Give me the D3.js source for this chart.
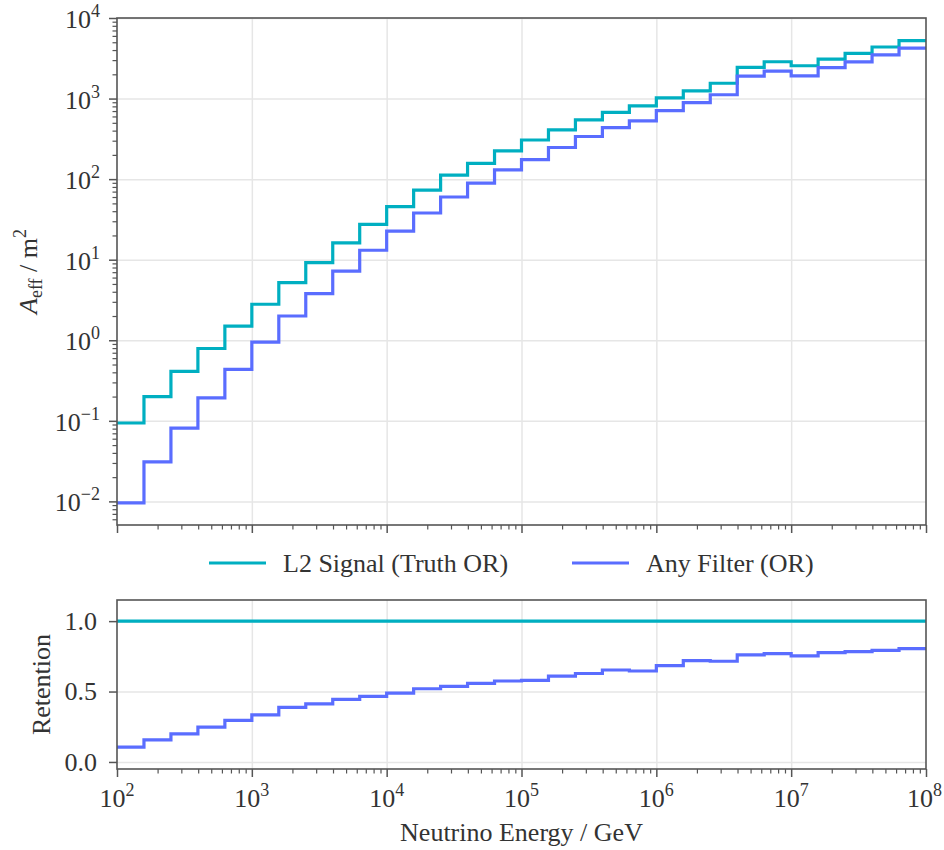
<!DOCTYPE html>
<meta charset="utf-8">
<body style="margin:0;background:#fff">
<script src="https://d3js.org/d3.v7.min.js"></script>
<script>
// bin edges as log10(E / GeV), 5 bins per decade
var edgeExp = [2.0, 2.2, 2.4, 2.6, 2.8, 3.0, 3.2, 3.4, 3.6, 3.8, 4.0, 4.2, 4.4, 4.6, 4.8,
               5.0, 5.2, 5.4, 5.6, 5.8, 6.0, 6.2, 6.4, 6.6, 6.8, 7.0, 7.2, 7.4, 7.6, 7.8, 8.0];

// effective area per bin (m^2)
var aeffL2 = [0.094, 0.20, 0.41, 0.79, 1.5, 2.8, 5.2, 9.2, 16.2, 27.4, 45.5, 73, 112, 157, 224,
              306, 408, 543, 672, 813, 1021, 1248, 1550, 2437, 2863, 2553, 3093, 3640, 4363, 5224];
var aeffAny = [0.0096, 0.031, 0.081, 0.193, 0.435, 0.95, 2.0, 3.8, 7.2, 13.1, 22.6, 38, 60, 89, 130,
               175, 247, 338, 437, 530, 710, 892, 1115, 1900, 2188, 1913, 2420, 2850, 3480, 4230];

// retention relative to L2 signal
var retL2 = [1, 1, 1, 1, 1, 1, 1, 1, 1, 1, 1, 1, 1, 1, 1, 1, 1, 1, 1, 1, 1, 1, 1, 1, 1, 1, 1, 1, 1, 1];
var retAny = [0.105, 0.157, 0.200, 0.247, 0.295, 0.335, 0.387, 0.413, 0.444, 0.466, 0.489, 0.520, 0.537, 0.558, 0.575,
              0.580, 0.610, 0.628, 0.653, 0.646, 0.684, 0.720, 0.715, 0.760, 0.769, 0.753, 0.776, 0.783, 0.793, 0.805];

var seriesNames = ["L2 Signal (Truth OR)", "Any Filter (OR)"];
var colors = ["#00afc1", "#5a6dff"];

var retTicks = [0.0, 0.5, 1.0];
var aeffDecades = [-2, -1, 0, 1, 2, 3, 4];
var energyDecades = [2, 3, 4, 5, 6, 7, 8];

var width = 944, height = 850;
var left = 117, right = 926;
var top1 = 18, bot1 = 525, top2 = 600, bot2 = 769;
var font = "Liberation Serif, Times New Roman, serif";
var fs = 26, fsSup = 18;
var textCol = "#333";
var spineCol = "#555";

var svg = d3.select("body").append("svg")
    .attr("width", width)
    .attr("height", height)
    .attr("font-family", font);

var x = d3.scaleLog().domain([1e2, 1e8]).range([left, right]);
var y1 = d3.scaleLog().domain([Math.pow(10, -2.293), 1e4]).range([bot1, top1]);
var y2 = d3.scaleLinear().domain([-0.05, 1.15]).range([bot2, top2]);

var edges = edgeExp.map(function(e) { return Math.pow(10, e); });
var majorX = energyDecades.map(function(e) { return Math.pow(10, e); });
var minorX = [];
energyDecades.slice(0, -1).forEach(function(e) {
  for (var m = 2; m < 10; m++) minorX.push(m * Math.pow(10, e));
});
var majorY = aeffDecades.map(function(e) { return Math.pow(10, e); });
var minorY = [];
[-3].concat(aeffDecades).forEach(function(e) {
  for (var m = 2; m < 10; m++) {
    var v = m * Math.pow(10, e);
    if (v > y1.domain()[0] && v < 1e4) minorY.push(v);
  }
});

function stepPoints(vals) {
  var pts = vals.map(function(v, i) { return [edges[i], v]; });
  pts.push([edges[edges.length - 1], vals[vals.length - 1]]);
  return pts;
}

function addText(parent) {
  return parent.append("text")
    .attr("fill", textCol)
    .style("font-family", font)
    .style("font-size", fs + "px");
}

function panel(yScale, yTop, yBot, yGrid, series, clipId) {
  var g = svg.append("g");
  // grid
  g.append("g").attr("transform", "translate(0," + yBot + ")")
    .call(d3.axisBottom(x).tickValues(majorX.slice(1, -1)).tickSize(-(yBot - yTop)).tickFormat(""))
    .call(function(s) { s.select(".domain").remove(); s.selectAll("line").attr("stroke", "#e6e6e6").attr("stroke-width", 1.5); });
  g.append("g").attr("transform", "translate(" + left + ",0)")
    .call(d3.axisLeft(yScale).tickValues(yGrid).tickSize(-(right - left)).tickFormat(""))
    .call(function(s) { s.select(".domain").remove(); s.selectAll("line").attr("stroke", "#e6e6e6").attr("stroke-width", 1.5); });

  svg.append("clipPath").attr("id", clipId).append("rect")
    .attr("x", left).attr("y", yTop).attr("width", right - left).attr("height", yBot - yTop);

  var line = d3.line()
    .x(function(d) { return x(d[0]); })
    .y(function(d) { return yScale(d[1]); })
    .curve(d3.curveStepAfter);

  series.forEach(function(vals, i) {
    g.append("path")
      .attr("clip-path", "url(#" + clipId + ")")
      .attr("d", line(stepPoints(vals)))
      .attr("fill", "none")
      .attr("stroke", colors[i])
      .attr("stroke-width", 3.2);
  });

  // x ticks
  g.append("g").attr("transform", "translate(0," + yBot + ")")
    .call(d3.axisBottom(x).tickValues(majorX).tickSize(8).tickFormat(""))
    .call(function(s) { s.select(".domain").remove(); s.selectAll("line").attr("stroke", spineCol).attr("stroke-width", 1.5); });
  g.append("g").attr("transform", "translate(0," + yBot + ")")
    .call(d3.axisBottom(x).tickValues(minorX).tickSize(4.5).tickFormat(""))
    .call(function(s) { s.select(".domain").remove(); s.selectAll("line").attr("stroke", spineCol).attr("stroke-width", 1.2); });

  // frame
  g.append("rect")
    .attr("x", left).attr("y", yTop).attr("width", right - left).attr("height", yBot - yTop)
    .attr("fill", "none").attr("stroke", spineCol).attr("stroke-width", 1.6);
  return g;
}

// top panel
var g1 = panel(y1, top1, bot1, majorY, [aeffL2, aeffAny], "clipTop");
g1.append("g").attr("transform", "translate(" + left + ",0)")
  .call(d3.axisLeft(y1).tickValues(majorY).tickSize(8).tickFormat(""))
  .call(function(s) { s.select(".domain").remove(); s.selectAll("line").attr("stroke", spineCol).attr("stroke-width", 1.5); });
g1.append("g").attr("transform", "translate(" + left + ",0)")
  .call(d3.axisLeft(y1).tickValues(minorY).tickSize(4.5).tickFormat(""))
  .call(function(s) { s.select(".domain").remove(); s.selectAll("line").attr("stroke", spineCol).attr("stroke-width", 1.2); });

aeffDecades.forEach(function(d) {
  var t = addText(g1)
    .attr("x", left - 17)
    .attr("y", y1(Math.pow(10, d)) + 10)
    .attr("text-anchor", "end");
  t.append("tspan").text("10");
  t.append("tspan").attr("dy", -11).style("font-size", fsSup + "px").text(d < 0 ? "\u2212" + (-d) : d);
});

// y label top
var yl = addText(svg)
  .attr("transform", "translate(37," + ((top1 + bot1) / 2) + ") rotate(-90)")
  .attr("text-anchor", "middle");
yl.append("tspan").style("font-style", "italic").text("A");
yl.append("tspan").attr("dy", 5).style("font-size", fsSup + "px").text("eff");
yl.append("tspan").attr("dy", -5).text(" / m");
yl.append("tspan").attr("dy", -11).style("font-size", fsSup + "px").text("2");

// legend
var legX = [209, 572];
var legY = 563;
seriesNames.forEach(function(name, i) {
  svg.append("line")
    .attr("x1", legX[i]).attr("x2", legX[i] + 57)
    .attr("y1", legY).attr("y2", legY)
    .attr("stroke", colors[i]).attr("stroke-width", 3.2);
  addText(svg)
    .attr("x", legX[i] + 74).attr("y", legY + 9)
    .text(name);
});

// bottom panel
var g2 = panel(y2, top2, bot2, retTicks, [retL2, retAny], "clipBot");
g2.append("g").attr("transform", "translate(" + left + ",0)")
  .call(d3.axisLeft(y2).tickValues(retTicks).tickSize(8).tickFormat(d3.format(".1f")).tickPadding(12))
  .call(function(s) {
    s.select(".domain").remove();
    s.selectAll("line").attr("stroke", spineCol).attr("stroke-width", 1.5);
    s.selectAll("text").attr("fill", textCol).style("font-size", fs + "px").style("font-family", font);
  });

energyDecades.forEach(function(d) {
  var t = addText(g2)
    .attr("x", x(Math.pow(10, d)))
    .attr("y", bot2 + 38)
    .attr("text-anchor", "middle");
  t.append("tspan").text("10");
  t.append("tspan").attr("dy", -11).style("font-size", fsSup + "px").text(d);
  // keep the last label inside the page
  var bb = t.node().getBBox();
  if (bb.x + bb.width > width - 2) {
    t.attr("x", x(Math.pow(10, d)) - (bb.x + bb.width - (width - 2)));
  }
});

addText(svg)
  .attr("transform", "translate(41," + ((top2 + bot2) / 2) + ") rotate(-90)")
  .attr("text-anchor", "middle")
  .attr("dy", 9)
  .text("Retention");

addText(svg)
  .attr("x", (left + right) / 2)
  .attr("y", 841)
  .attr("text-anchor", "middle")
  .text("Neutrino Energy / GeV");
</script>
</body>
